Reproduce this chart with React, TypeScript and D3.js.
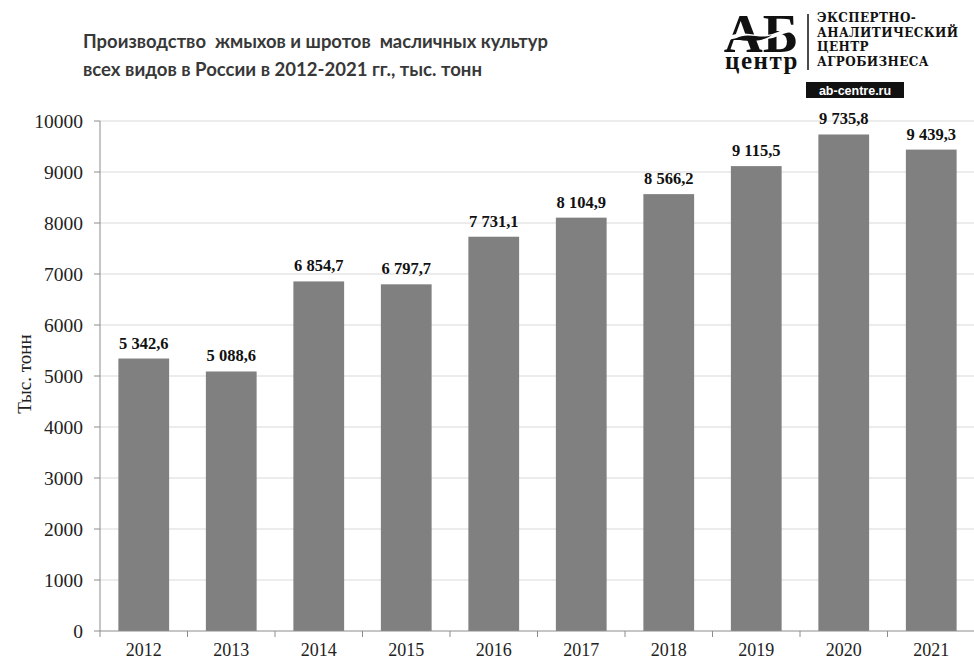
import React from "react";
import { scaleBand, scaleLinear } from "d3";

const years = ["2012", "2013", "2014", "2015", "2016", "2017", "2018", "2019", "2020", "2021"];
const values = [5342.6, 5088.6, 6854.7, 6797.7, 7731.1, 8104.9, 8566.2, 9115.5, 9735.8, 9439.3];
const valueLabels = ["5 342,6", "5 088,6", "6 854,7", "6 797,7", "7 731,1", "8 104,9", "8 566,2", "9 115,5", "9 735,8", "9 439,3"];
const yTicks = [0, 1000, 2000, 3000, 4000, 5000, 6000, 7000, 8000, 9000, 10000];
const titleLines = [
  "Производство  жмыхов и шротов  масличных культур",
  "всех видов в России в 2012-2021 гг., тыс. тонн",
];
const logoLines = ["ЭКСПЕРТНО-", "АНАЛИТИЧЕСКИЙ", "ЦЕНТР", "АГРОБИЗНЕСА"];

const W = 974;
const H = 662;
const left = 100;
const right = 975;
const top = 121;
const bottom = 631;
const serif = "'Liberation Serif', 'Times New Roman', serif";

export default function App() {
  const x = scaleBand<string>().domain(years).range([left, right]).paddingInner(0.42).paddingOuter(0.21);
  const y = scaleLinear().domain([0, 10000]).range([bottom, top]);
  const step = x.step();

  return (
    <div style={{ position: "absolute", left: 0, top: 0 }}>
      <svg width={W} height={H} style={{ display: "block", background: "#fff" }}>
        {/* title */}
        <g fontFamily="Lato, 'Open Sans', sans-serif" fontWeight="bold" fontSize={18.5} fill="#383838">
          <text x={83} y={48} textLength={465} lengthAdjust="spacingAndGlyphs" style={{ whiteSpace: "pre" }}>
            {titleLines[0]}
          </text>
          <text x={83} y={76} textLength={399} lengthAdjust="spacingAndGlyphs">
            {titleLines[1]}
          </text>
        </g>

        {/* logo */}
        <g>
          <text textAnchor="middle" fontFamily={serif} fontWeight="bold" fill="#111">
            <tspan x={761} y={52} fontSize={54}>АБ</tspan>
            <tspan x={762} y={69} fontSize={25} letterSpacing={1.5}>центр</tspan>
          </text>
          <path d="M724,40 C745,29 760,43 778,34 C786,30 792,29 800,30" stroke="#fff" strokeWidth={4} fill="none" />
          <path d="M735,39 C748,31 760,40 772,35 C762,42 748,42 735,39 Z" fill="#111" />
          <line x1={808} x2={808} y1={14} y2={70} stroke="#111" strokeWidth={1.5} />
          {logoLines.map((t, i) => (
            <text key={t} x={817} y={22 + i * 14.7} fontFamily="'DejaVu Serif', serif" fontWeight="bold" fontSize={12}
              fill="#111" letterSpacing={0.4}>{t}</text>
          ))}
          <rect x={806} y={82} width={98} height={16} fill="#111" />
          <text x={855} y={94.5} textAnchor="middle" fontFamily="'Liberation Sans', Arial, sans-serif" fontWeight="bold"
            fontSize={12.5} fill="#fff">ab-centre.ru</text>
        </g>

        {/* grid */}
        {yTicks.filter((t) => t > 0).map((t) => (
          <line key={t} x1={left} x2={right} y1={y(t)} y2={y(t)} stroke="#d9d9d9" strokeWidth={1} />
        ))}

        {/* bars */}
        {years.map((yr, i) => (
          <rect key={yr} x={x(yr)} y={y(values[i])} width={x.bandwidth()} height={bottom - y(values[i])} fill="#808080" />
        ))}

        {/* value labels */}
        {years.map((yr, i) => (
          <text key={yr} x={(x(yr) as number) + x.bandwidth() / 2} y={y(values[i]) - 10} textAnchor="middle"
            fontFamily={serif} fontWeight="bold" fontSize={16.5} fill="#111">{valueLabels[i]}</text>
        ))}

        {/* axes */}
        <line x1={left} x2={left} y1={top} y2={bottom} stroke="#8c8c8c" />
        <line x1={left} x2={right} y1={bottom} y2={bottom} stroke="#8c8c8c" />
        {yTicks.map((t) => (
          <g key={t}>
            <line x1={left - 6} x2={left} y1={y(t)} y2={y(t)} stroke="#8c8c8c" />
            <text x={83} y={y(t)} dy="0.35em" textAnchor="end" fontFamily={serif} fontSize={19.5} fill="#222">{t}</text>
          </g>
        ))}
        {years.map((yr, i) => (
          <line key={yr} x1={left + i * step} x2={left + i * step} y1={bottom} y2={bottom + 6} stroke="#8c8c8c" />
        ))}
        {years.map((yr) => (
          <text key={yr} x={(x(yr) as number) + x.bandwidth() / 2} y={656} textAnchor="middle" fontFamily={serif}
            fontSize={18} fill="#222">{yr}</text>
        ))}
        <text transform={`translate(31,374) rotate(-90)`} textAnchor="middle" fontFamily={serif} fontSize={19} fill="#222">
          Тыс. тонн
        </text>
      </svg>
    </div>
  );
}
